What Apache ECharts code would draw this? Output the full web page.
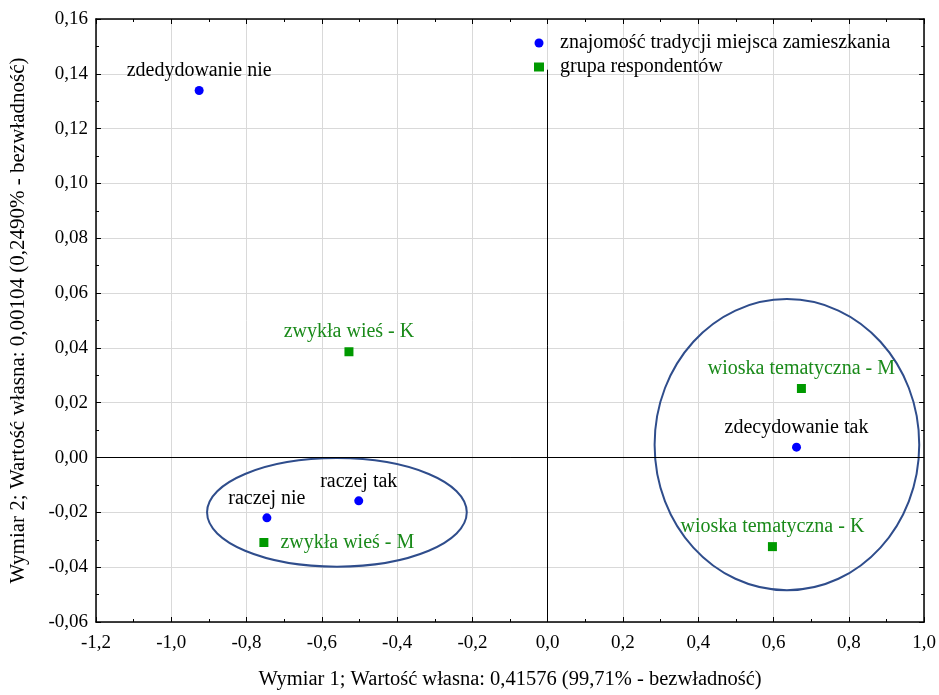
<!DOCTYPE html>
<html><head><meta charset="utf-8">
<script src="https://cdn.jsdelivr.net/npm/echarts@6/dist/echarts.min.js"></script>
<style>html,body{margin:0;padding:0;background:#fff}#c{width:939px;height:695px}</style>
</head><body><div id="c"></div>
<script>
// ---- data ----
const tradLabels = ['zdedydowanie nie', 'raczej nie', 'raczej tak', 'zdecydowanie tak'];
const tradX = [-0.926, -0.746, -0.502, 0.661];
const tradY = [0.1339, -0.0220, -0.0158, 0.0038];

const grpLabels = ['zwykła wieś - K', 'zwykła wieś - M', 'wioska tematyczna - M', 'wioska tematyczna - K'];
const grpX = [-0.528, -0.754, 0.674, 0.597];
const grpY = [0.0386, -0.0310, 0.0252, -0.0325];

// ellipses: center x, center y, radius x, radius y (data units)
const ellCX = [-0.560, 0.6355];
const ellCY = [-0.0200, 0.0047];
const ellRX = [0.345, 0.3515];
const ellRY = [0.0198, 0.0531];

const xTicks = ['-1,2','-1,0','-0,8','-0,6','-0,4','-0,2','0,0','0,2','0,4','0,6','0,8','1,0'];
const yTicks = ['-0,06','-0,04','-0,02','0,00','0,02','0,04','0,06','0,08','0,10','0,12','0,14','0,16'];

const seriesNames = ['znajomość tradycji miejsca zamieszkania', 'grupa respondentów'];
const xTitle = 'Wymiar 1; Wartość własna: 0,41576 (99,71% - bezwładność)';
const yTitle = 'Wymiar 2; Wartość własna: 0,00104 (0,2490% - bezwładność)';

// ---- styles ----
const FONT = 'Liberation Serif';
const tradLabelPos = ['top', 'top', 'top', 'top'];
const grpLabelPos = ['top', 'right', 'top', 'top'];

const tradData = tradX.map((x, i) => ({value: [x, tradY[i]], name: tradLabels[i],
  label: {position: tradLabelPos[i]}}));
const grpData = grpX.map((x, i) => ({value: [x, grpY[i]], name: grpLabels[i],
  label: {position: grpLabelPos[i], distance: grpLabelPos[i] === 'right' ? 12 : 5}}));
const ellData = ellCX.map((cx, i) => [cx, ellCY[i], ellRX[i], ellRY[i]]);

const xFmt = v => xTicks[Math.round((v + 1.2) / 0.2)] ?? '';
const yFmt = v => yTicks[Math.round((v + 0.06) / 0.02)] ?? '';

const chart = echarts.init(document.getElementById('c'));
const axisCommon = {
  axisLine: {show: true, onZero: false, lineStyle: {color: '#000', width: 1.5}},
  axisTick: {show: true, inside: true, length: 5, lineStyle: {color: '#000'}},
  minorTick: {show: true, splitNumber: 2, length: 3, lineStyle: {color: '#000'}},
};
chart.setOption({
  animation: false,
  backgroundColor: '#fff',
  grid: {left: 96, right: 14, top: 19, bottom: 69},
  legend: {
    orient: 'vertical', left: 529, top: 28, itemGap: 4,
    itemWidth: 10, itemHeight: 9,
    data: [{name: seriesNames[0], icon: 'circle'}, {name: seriesNames[1], icon: 'rect'}],
    textStyle: {fontFamily: FONT, fontSize: 20, color: '#000', padding: [0, 0, 0, 11]}
  },
  xAxis: [
    Object.assign({type: 'value', min: -1.2, max: 1.0, interval: 0.2, position: 'bottom',
      name: xTitle, nameLocation: 'middle', nameGap: 47,
      nameTextStyle: {fontFamily: FONT, fontSize: 20.5, color: '#000'},
      axisLabel: {formatter: xFmt, fontFamily: FONT, fontSize: 19, color: '#000', margin: 12},
      splitLine: {show: true, lineStyle: {color: '#d9d9d9', width: 1}}}, axisCommon),
    Object.assign({type: 'value', min: -1.2, max: 1.0, interval: 0.2, position: 'top',
      axisLabel: {show: false}, splitLine: {show: false}}, axisCommon)
  ],
  yAxis: [
    Object.assign({type: 'value', min: -0.06, max: 0.16, interval: 0.02, position: 'left',
      name: yTitle, nameLocation: 'middle', nameGap: 67, nameRotate: 90,
      nameTextStyle: {fontFamily: FONT, fontSize: 21, color: '#000'},
      axisLabel: {formatter: yFmt, fontFamily: FONT, fontSize: 19, color: '#000', margin: 8},
      splitLine: {show: true, lineStyle: {color: '#d9d9d9', width: 1}}}, axisCommon),
    Object.assign({type: 'value', min: -0.06, max: 0.16, interval: 0.02, position: 'right',
      axisLabel: {show: false}, splitLine: {show: false}}, axisCommon)
  ],
  series: [
    {
      type: 'custom', name: 'ellipses', xAxisIndex: 0, yAxisIndex: 0, silent: true, z: 3,
      data: ellData,
      renderItem: (params, api) => {
        const c = api.coord([api.value(0), api.value(1)]);
        const s = api.size([api.value(2), api.value(3)]);
        return {type: 'ellipse', shape: {cx: c[0], cy: c[1], rx: s[0], ry: s[1]},
          style: {fill: null, stroke: '#2f4d8c', lineWidth: 2}};
      }
    },
    {
      type: 'scatter', name: seriesNames[0], xAxisIndex: 0, yAxisIndex: 0, z: 5,
      symbol: 'circle', symbolSize: 9, itemStyle: {color: '#0000ff', opacity: 1},
      data: tradData,
      label: {show: true, formatter: '{b}', distance: 5, fontFamily: FONT, fontSize: 20, color: '#000'},
      markLine: {
        silent: true, symbol: 'none', label: {show: false},
        lineStyle: {color: '#000', width: 1, type: 'solid', opacity: 1},
        data: [
          [{coord: [0, -0.06]}, {coord: [0, 0.1415]}],
          [{coord: [-1.2, 0]}, {coord: [1.0, 0]}]
        ]
      }
    },
    {
      type: 'scatter', name: seriesNames[1], xAxisIndex: 0, yAxisIndex: 0, z: 5,
      symbol: 'rect', symbolSize: 9, itemStyle: {color: '#009900', opacity: 1},
      data: grpData,
      label: {show: true, formatter: '{b}', fontFamily: FONT, fontSize: 20, color: '#1a8a1a'}
    }
  ]
});
</script></body></html>
